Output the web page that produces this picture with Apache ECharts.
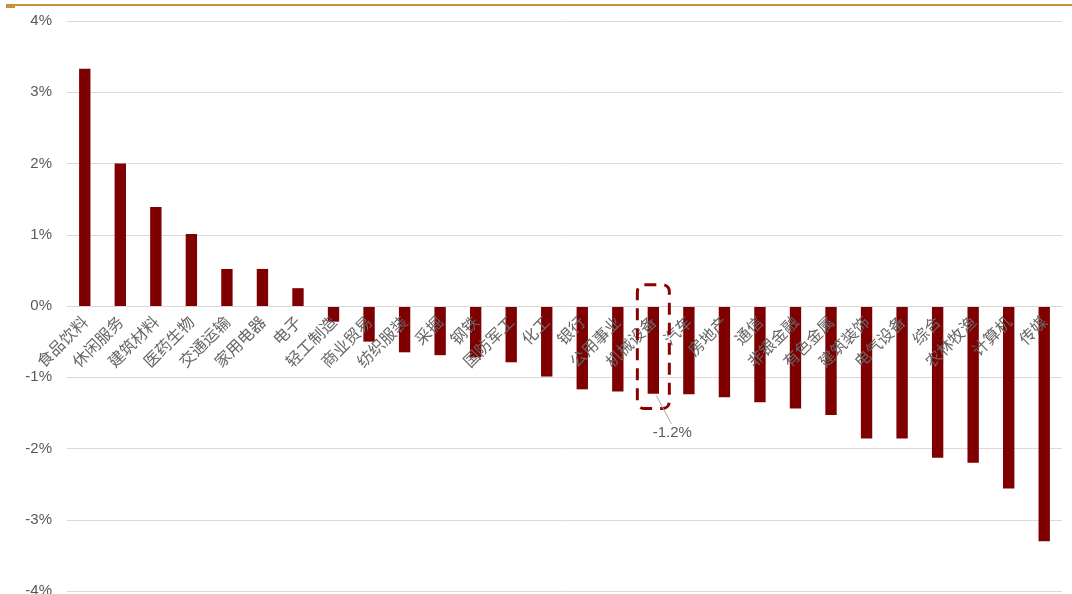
<!DOCTYPE html>
<html lang="zh">
<head>
<meta charset="UTF-8">
<title>申万一级行业涨跌幅</title>
<style>
    html,body{margin:0;padding:0;background:#fff;}
    #main{width:1072px;height:594px;}
</style>
</head>
<body>
<div id="main"></div>
<script src="https://cdn.jsdelivr.net/npm/echarts@6/dist/echarts.min.js"></script>
<script>
    // 行业
    const industries = ['食品饮料','休闲服务','建筑材料','医药生物','交通运输','家用电器','电子','轻工制造',
        '商业贸易','纺织服装','采掘','钢铁','国防军工','化工','银行','公用事业','机械设备','汽车',
        '房地产','通信','非银金融','有色金属','建筑装饰','电气设备','综合','农林牧渔','计算机','传媒'];
    // 涨跌幅 %
    const changes = [3.33,2.00,1.39,1.01,0.52,0.52,0.25,-0.22,
        -0.50,-0.65,-0.69,-0.72,-0.79,-0.99,-1.17,-1.20,-1.23,-1.24,
        -1.28,-1.35,-1.44,-1.53,-1.86,-1.86,-2.13,-2.20,-2.56,-3.30];
    // 标注
    const markName = '机械设备';
    const markText = '-1.2%';
    const markTop = 0.30, markBottom = -1.44;
    const yMin = -4, yMax = 4;

    const myChart = echarts.init(document.getElementById('main'));
    const grey = '#595959';

    const option = {
        animation:false,
        grid:{left:67,right:10,top:21,bottom:3,outerBoundsMode:'none'},
        xAxis:{
            type:'category',
            data:industries,
            position:'bottom',
            z:10,
            axisLine:{onZero:false,lineStyle:{color:'#D9D9D9'}},
            axisTick:{show:false},
            axisLabel:{
                interval:0,
                rotate:45,
                margin:13,
                color:'#666666',
                fontSize:16,
                fontFamily:'Noto Sans CJK SC'
            }
        },
        yAxis:{
            type:'value',
            min:yMin,max:yMax,interval:1,
            axisLine:{show:false},
            axisTick:{show:false},
            axisLabel:{
                color:grey,
                fontSize:15,
                margin:15,
                fontFamily:'Liberation Sans',
                formatter:v=>v+'%'
            },
            splitLine:{lineStyle:{color:'#D9D9D9'}}
        },
        series:[{
            type:'bar',
            data:changes,
            barWidth:'32%',
            itemStyle:{color:'#7F0000'}
        }]
    };
    myChart.setOption(option);

    // 把类目轴移到 0 线
    const yZero = myChart.convertToPixel({yAxisIndex:0},0);
    const yBottom = myChart.convertToPixel({yAxisIndex:0},yMin);
    myChart.setOption({xAxis:{offset:yZero-yBottom}});

    // 虚线框、引线、标签
    const idx = industries.indexOf(markName);
    const c0 = myChart.convertToPixel({seriesIndex:0},[idx,0]);
    const c1 = myChart.convertToPixel({seriesIndex:0},[idx+1,0]);
    const band = c1[0]-c0[0];
    const pTop = myChart.convertToPixel({seriesIndex:0},[idx,markTop]);
    const pBot = myChart.convertToPixel({seriesIndex:0},[idx,markBottom]);
    const pBar = myChart.convertToPixel({seriesIndex:0},[idx,changes[idx]]);
    const half = band*0.45;

    myChart.setOption({
        graphic:[
            {
                type:'rect',
                shape:{x:6,y:5,width:9,height:3},
                style:{fill:'#C8913F'}
            },
            {
                type:'line',
                shape:{x1:6,y1:5,x2:1072,y2:5},
                style:{stroke:'#C8913F',lineWidth:2}
            },
            {
                type:'rect',
                z:20,
                shape:{x:pTop[0]-half,y:pTop[1],width:half*2,height:pBot[1]-pTop[1],r:7},
                style:{fill:null,stroke:'#8B0000',lineWidth:3,lineDash:[12,8]}
            },
            {
                type:'line',
                z:20,
                shape:{x1:pBar[0]+3,y1:pBar[1]+2,x2:pBar[0]+18,y2:pBar[1]+30},
                style:{stroke:'#A6A6A6',lineWidth:1}
            },
            {
                type:'text',
                z:20,
                x:pBar[0]+19,
                y:pBar[1]+39,
                style:{
                    text:markText,
                    fill:grey,
                    fontSize:15,
                    fontFamily:'Liberation Sans',
                    align:'center',
                    verticalAlign:'middle'
                }
            }
        ]
    });
</script>
</body>
</html>
